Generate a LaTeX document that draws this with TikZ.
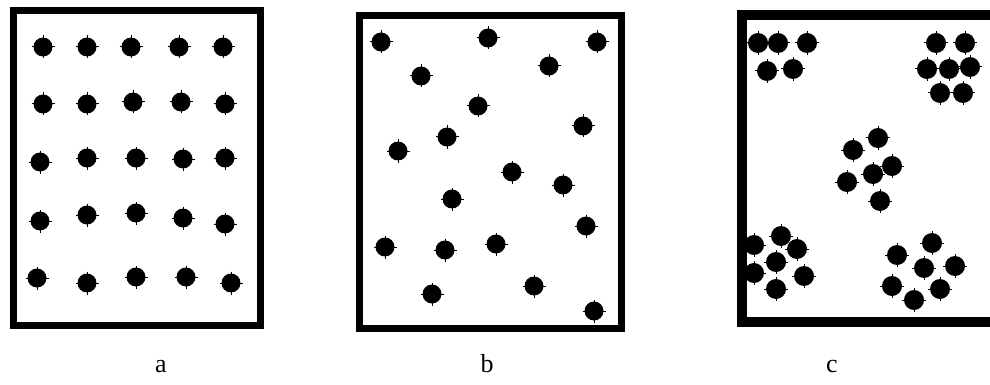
\documentclass[tikz,border=0pt]{standalone}
\usepackage{fontspec}
\setmainfont{Liberation Serif}
\usepackage{tikz}
\usetikzlibrary{positioning}
\tikzset{
  frame/.style={draw=black, line width=7pt},
  thickframe/.style={draw=black, line width=10pt},
  caption/.style={font=\fontsize{26}{30}\selectfont, inner sep=0pt, anchor=base},
  grain/.pic={
    \fill[black] (0,0) circle (9.5);
    \draw[black, line width=1pt] (-11.5,0) -- (11.5,0) (0,-11.5) -- (0,11.5);
  },
  biggrain/.pic={
    \fill[black] (0,0) circle (10);
    \draw[black, line width=1pt] (-12,0) -- (12,0) (0,-12) -- (0,12);
  }
}
\begin{document}
\begin{tikzpicture}[x=1pt, y=-1pt]
  \useasboundingbox[fill=white] (0,0) rectangle (990,385);

  % a: regular grid
  \draw[frame] (13,11) rectangle (260,325);
  \foreach \x/\y in {43/47, 87/47, 131/47, 179/47, 223/47,
                     43/104, 87/104, 133/102, 181/102, 225/104,
                     40/162, 87/158, 136/158, 183/159, 225/158,
                     40/221, 87/215, 136/213, 183/218, 225/224,
                     37/278, 87/283, 136/277, 186/277, 231/283}
    \pic at (\x,\y) {grain};

  % b: random
  \draw[frame] (359.5,15.5) rectangle (621.5,328.5);
  \foreach \x/\y in {381/42, 488/38, 597/42, 421/76, 549/66, 478/106,
                     583/126, 447/137, 398/151, 512/172, 563/185, 452/199,
                     586/226, 385/247, 445/250, 496/244, 432/294, 534/286,
                     594/311}
    \pic at (\x,\y) {grain};

  % c: clustered
  \draw[thickframe] (995,15) -- (742,15) -- (742,322) -- (995,322);
  \foreach \x/\y in {758/43, 778/43, 807/43, 767/71, 793/69,
                     936/43, 965/43, 927/69, 949/69, 970/67, 940/93, 963/93,
                     853/150, 878/138, 892/166, 873/174, 847/182, 880/201,
                     754/245, 781/236, 797/249, 776/262, 754/273, 804/276, 776/289,
                     932/243, 897/255, 924/268, 955/266, 892/286, 914/300, 940/289}
    \pic at (\x,\y) {biggrain};

  \node[caption] (capa) at (161,372) {a};
  \node[caption] (capb) at (487,372) {b};
  \node[caption] (capc) at (832,372) {c};
\end{tikzpicture}
\end{document}
